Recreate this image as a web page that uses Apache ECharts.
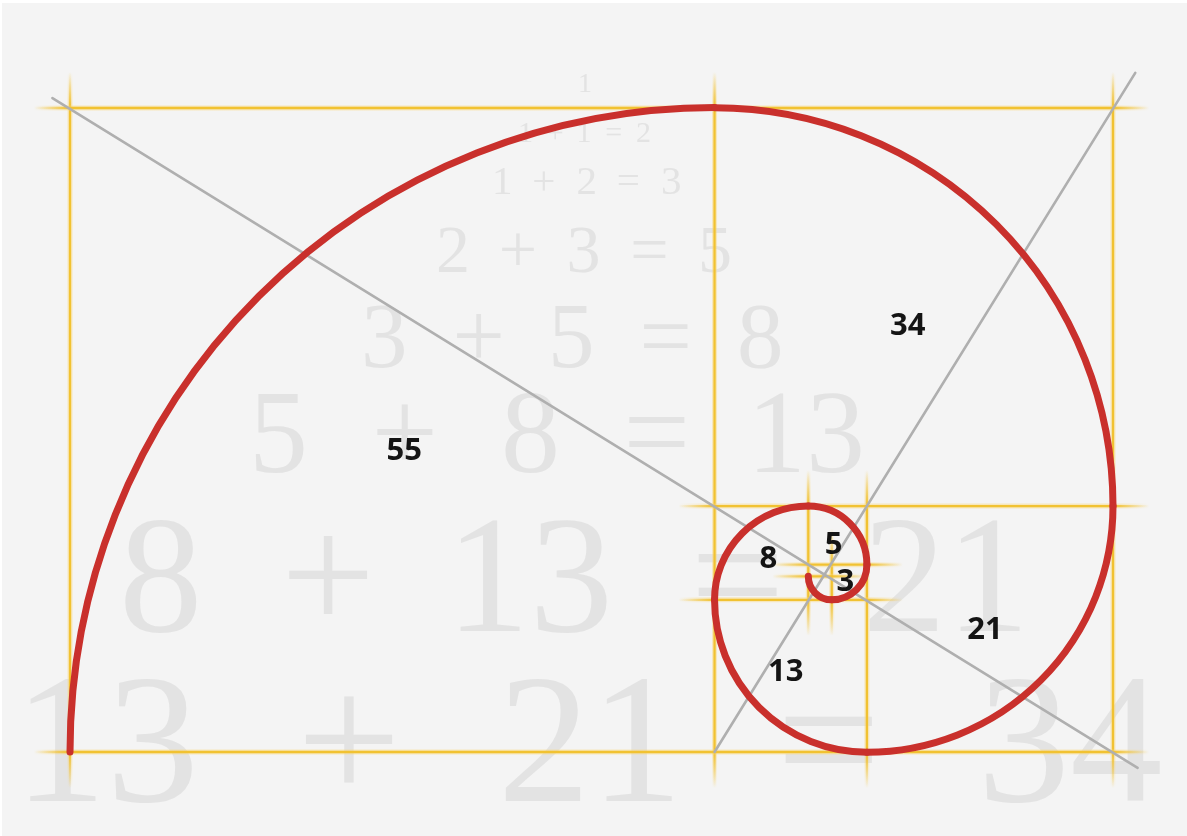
<!DOCTYPE html>
<html>
<head>
<meta charset="utf-8">
<script src="https://cdn.jsdelivr.net/npm/echarts@6.0.0/dist/echarts.min.js"></script>
<style>
  html, body { margin: 0; padding: 0; background: #ffffff; }
  #chart { width: 1187px; height: 836px; }
</style>
</head>
<body>
<div id="chart"></div>
<script>
// ---------- DATA ----------
// Fibonacci sequence used for the background equations
const fibSeq = [1, 1, 2, 3, 5, 8, 13, 21, 34];
// Squares of the golden rectangle: [x0, y0, side] (units, y up)
const squares = [
  [0, 0, 55], [55, 21, 34], [68, 0, 21], [55, 0, 13],
  [55, 13, 8], [63, 16, 5], [65, 13, 3]
];
// Spiral quarter arcs: [centerX, centerY, radius, startAngleDeg]
const spiralArcs = [
  [55, 0, 55, 180], [55, 21, 34, 270], [68, 21, 21, 0], [68, 13, 13, 90],
  [63, 13, 8, 180], [63, 16, 5, 270], [65, 16, 3, 0], [65, 15, 2, 90]
];
// Square edges: [x1, y1, x2, y2]
const edgeSegments = [
  [0, 0, 0, 55], [89, 0, 89, 55], [55, 0, 55, 55], [68, 0, 68, 21],
  [63, 13, 63, 21], [65, 13, 65, 16],
  [0, 0, 89, 0], [0, 55, 89, 55], [55, 21, 89, 21], [55, 13, 68, 13],
  [63, 16, 68, 16], [63, 15, 65, 15]
];
// Diagonals: [x1, y1, x2, y2]
const diagonals = [
  [-1.5, 55.85, 91.1, -1.35],
  [55, 0, 90.9, 58]
];

// ---------- LAYOUT ----------
const labelOffsets = [[12, 21], [-6, 19], [-5, 1], [-5, -4], [7, 6], [-4, 10], [-4, 0]];
// equation rows: [inkLeft, inkRight, inkCenterY, fontSize]
const eqLayout = [
  [585, 585, 82.5, 28], [520, 650, 132, 30], [495, 680, 181, 41], [438, 730, 250, 68],
  [365, 780, 336.5, 93], [255, 861, 433, 118], [125, 1020, 576.5, 167], [30, 1160, 740.5, 185]
];

const YELLOW = '#f1c232';
const RED = '#c9302c';
const GRAY = '#afafaf';
const EQ_COLOR = '#e3e3e3';

// Build equation token rows from the sequence
const eqRows = [[String(fibSeq[0])]];
for (let i = 1; i < fibSeq.length - 1; i++) {
  eqRows.push([String(fibSeq[i - 1]), '+', String(fibSeq[i]), '=', String(fibSeq[i + 1])]);
}

const mctx = document.createElement('canvas').getContext('2d');
const graphics = [
  { type: 'rect', z: -20, shape: { x: 2, y: 3, width: 1187, height: 836 }, style: { fill: '#f4f4f4' }, silent: true }
];
eqRows.forEach((tokens, r) => {
  const [left, right, cy, size] = eqLayout[r];
  const font = size + 'px "Liberation Serif"';
  mctx.font = font;
  mctx.textBaseline = 'middle';
  const digitM = mctx.measureText('0123456789');
  const yShift = (digitM.actualBoundingBoxDescent - digitM.actualBoundingBoxAscent) / 2;
  const y = cy - yShift;
  const m = tokens.map(t => mctx.measureText(t));
  const inkW = m.map(mm => mm.actualBoundingBoxLeft + mm.actualBoundingBoxRight);
  if (tokens.length === 1) {
    graphics.push({ type: 'text', z: -10, silent: true, x: left, y,
      style: { text: tokens[0], font, fill: EQ_COLOR, align: 'center', textAlign: 'center', verticalAlign: 'middle', textVerticalAlign: 'middle' } });
    return;
  }
  const sum = inkW.reduce((a, b) => a + b, 0);
  const gap = (right - left - sum) / (tokens.length - 1);
  let cursor = left;
  tokens.forEach((t, i) => {
    const x = cursor + m[i].actualBoundingBoxLeft;
    graphics.push({ type: 'text', z: -10, silent: true, x, y,
      style: { text: t, font, fill: EQ_COLOR, align: 'left', textAlign: 'left', verticalAlign: 'middle', textVerticalAlign: 'middle' } });
    cursor += inkW[i] + gap;
  });
});

const chart = echarts.init(document.getElementById('chart'), null, { renderer: 'canvas' });

function fadeGradient(a, b, ext, color, fadeColor) {
  const L = Math.hypot(b[0] - a[0], b[1] - a[1]);
  const f = Math.min(0.45, ext / L);
  return new echarts.graphic.LinearGradient(a[0], a[1], b[0], b[1], [
    { offset: 0, color: fadeColor },
    { offset: f, color: color },
    { offset: 1 - f, color: color },
    { offset: 1, color: fadeColor }
  ], true);
}

const option = {
  backgroundColor: '#ffffff',
  animation: false,
  grid: { left: 70, top: 108, width: 1043, height: 644 },
  xAxis: { type: 'value', min: 0, max: 89, show: false },
  yAxis: { type: 'value', min: 0, max: 55, show: false },
  graphic: graphics,
  series: [
    {
      type: 'custom',
      name: 'edges',
      z: 2,
      silent: true,
      clip: false,
      encode: { x: [0, 2], y: [1, 3] },
      data: edgeSegments,
      renderItem: function (params, api) {
        const p1 = api.coord([api.value(0), api.value(1)]);
        const p2 = api.coord([api.value(2), api.value(3)]);
        const L = Math.hypot(p2[0] - p1[0], p2[1] - p1[1]);
        const ux = (p2[0] - p1[0]) / L, uy = (p2[1] - p1[1]) / L;
        const ext = 36;
        const a = [p1[0] - ux * ext, p1[1] - uy * ext];
        const b = [p2[0] + ux * ext, p2[1] + uy * ext];
        return {
          type: 'group',
          children: [
            {
              type: 'line',
              shape: { x1: a[0], y1: a[1], x2: b[0], y2: b[1] },
              style: { stroke: fadeGradient(a, b, ext, 'rgba(250,215,120,0.45)', 'rgba(250,215,120,0)'), lineWidth: 5 }
            },
            {
              type: 'line',
              shape: { x1: a[0], y1: a[1], x2: b[0], y2: b[1] },
              style: { stroke: fadeGradient(a, b, ext, YELLOW, 'rgba(241,194,50,0)'), lineWidth: 2.3 }
            }
          ]
        };
      }
    },
    {
      type: 'custom',
      name: 'diagonals',
      z: 3,
      silent: true,
      clip: false,
      encode: { x: [0, 2], y: [1, 3] },
      data: diagonals,
      renderItem: function (params, api) {
        const p1 = api.coord([api.value(0), api.value(1)]);
        const p2 = api.coord([api.value(2), api.value(3)]);
        return {
          type: 'line',
          shape: { x1: p1[0], y1: p1[1], x2: p2[0], y2: p2[1] },
          style: { stroke: GRAY, lineWidth: 2.6, lineCap: 'round' }
        };
      }
    },
    {
      type: 'custom',
      name: 'spiral',
      z: 4,
      silent: true,
      clip: false,
      encode: { x: 0, y: 1 },
      data: spiralArcs,
      renderItem: function (params, api) {
        const c = api.coord([api.value(0), api.value(1)]);
        const r = api.size([api.value(2), api.value(2)])[0];
        const s = api.value(3) * Math.PI / 180;
        return {
          type: 'arc',
          shape: { cx: c[0], cy: c[1], r: r, startAngle: s, endAngle: s + Math.PI / 2, clockwise: true },
          style: { stroke: RED, fill: null, lineWidth: 7, lineCap: 'round' }
        };
      }
    },
    {
      type: 'custom',
      name: 'labels',
      z: 5,
      silent: true,
      clip: false,
      encode: { x: 0, y: 1 },
      data: squares,
      renderItem: function (params, api) {
        const s = api.value(2);
        const c = api.coord([api.value(0) + s / 2, api.value(1) + s / 2]);
        const off = labelOffsets[params.dataIndex];
        return {
          type: 'text',
          x: c[0] + off[0],
          y: c[1] + off[1],
          style: {
            text: String(s),
            font: 'bold 31px "Open Sans"',
            fill: '#141414',
            align: 'center', textAlign: 'center',
            verticalAlign: 'middle', textVerticalAlign: 'middle'
          }
        };
      }
    }
  ]
};
chart.setOption(option);
</script>
</body>
</html>
